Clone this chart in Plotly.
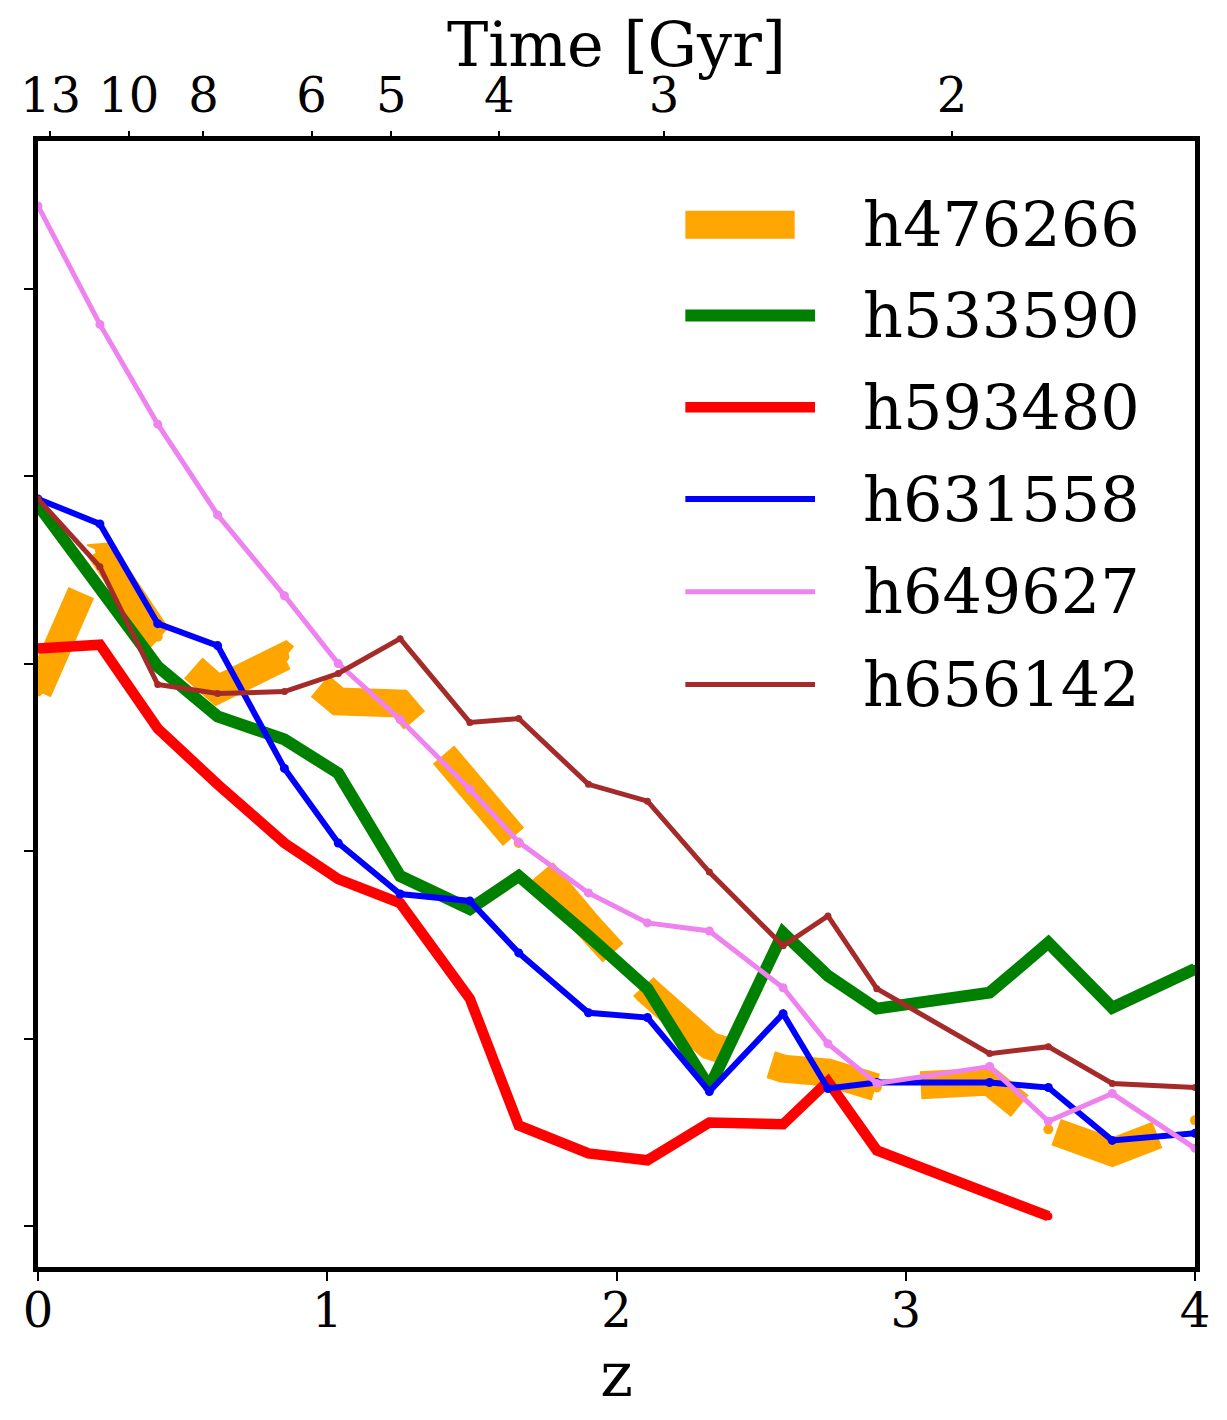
import plotly.graph_objects as go

# redshift of each snapshot
z = [0.0, 0.214, 0.414, 0.621, 0.852, 1.038, 1.252, 1.493, 1.662, 1.903,
     2.107, 2.321, 2.576, 2.731, 2.9, 3.29, 3.493, 3.714, 4.0]

# one series per halo (arbitrary units, no y labels in the original)
h476266 = [2.851, 3.606, 3.144, 2.862, 3.037, 2.798, 2.787, 2.319, 2.043, 1.601,
           1.255, 0.963, 0.840, 0.819, 0.739, 0.771, 0.516, 0.394, 0.564]
h533590 = [3.846, 3.410, 2.984, 2.718, 2.596, 2.415, 1.867, 1.691, 1.867, 1.548,
           1.266, 0.739, 1.564, 1.335, 1.160, 1.245, 1.511, 1.165, 1.372]
h593480 = [3.080, 3.101, 2.654, 2.356, 2.043, 1.851, 1.723, 1.213, 0.537, 0.388,
           0.351, 0.553, 0.543, 0.771, 0.404, 0.176, 0.053]
h631558 = [3.878, 3.745, 3.213, 3.096, 2.441, 2.043, 1.771, 1.734, 1.457, 1.138,
           1.112, 0.718, 1.133, 0.734, 0.766, 0.766, 0.739, 0.457, 0.495]
h649627 = [5.441, 4.809, 4.277, 3.793, 3.362, 3.000, 2.702, 2.330, 2.048, 1.777,
           1.617, 1.574, 1.271, 0.973, 0.761, 0.851, 0.559, 0.707, 0.415]
h656142 = [3.878, 3.516, 2.888, 2.840, 2.851, 2.947, 3.133, 2.686, 2.707, 2.356,
           2.266, 1.888, 1.495, 1.654, 1.266, 0.920, 0.957, 0.761, 0.739]

# top axis: cosmic time labels placed at their redshift
time_gyr = [13, 10, 8, 6, 5, 4, 3, 2]
time_z = [0.043, 0.314, 0.572, 0.946, 1.221, 1.595, 2.164, 3.16]

series = [
    ("h476266", h476266),
    ("h533590", h533590),
    ("h593480", h593480),
    ("h631558", h631558),
    ("h649627", h649627),
    ("h656142", h656142),
]

STYLE = {
    "h476266": dict(color="orange", width=28, dash="108px,45px", msize=10),
    "h533590": dict(color="green", width=12, dash="solid", msize=8),
    "h593480": dict(color="red", width=10.5, dash="solid", msize=8),
    "h631558": dict(color="blue", width=6, dash="solid", msize=9),
    "h649627": dict(color="violet", width=5, dash="solid", msize=9),
    "h656142": dict(color="brown", width=5, dash="solid", msize=7),
}

FONT = "DejaVu Serif"

fig = go.Figure()
for name, vals in series:
    st = STYLE[name]
    fig.add_trace(go.Scatter(
        x=z[:len(vals)], y=vals, name=name,
        mode="lines+markers",
        line=dict(color=st["color"], width=st["width"], dash=st["dash"]),
        marker=dict(color=st["color"], size=st["msize"]),
        showlegend=False,
    ))

# empty trace so the top axis is drawn
fig.add_trace(go.Scatter(x=[], y=[], xaxis="x2", showlegend=False))

# hand-made legend (long line samples like the original)
row_y = [0.9256, 0.845, 0.7635, 0.682, 0.5997, 0.5173]
for (name, _), yy in zip(series, row_y):
    st = STYLE[name]
    x1 = 0.654 if name == "h476266" else 0.6716
    fig.add_shape(type="line", xref="paper", yref="paper",
                  x0=0.5595, x1=x1, y0=yy, y1=yy,
                  line=dict(color=st["color"], width=st["width"]))
    fig.add_annotation(xref="paper", yref="paper", x=0.711, y=yy,
                       text=name, showarrow=False, xanchor="left", yanchor="middle",
                       font=dict(family=FONT, size=62, color="black"))

axis_common = dict(showgrid=False, zeroline=False, ticks="outside",
                   ticklen=9, tickwidth=2, tickcolor="black")

# page has an 8px body margin, so the figure is a bit smaller than the window
fig.update_layout(
    width=1219, height=1412,
    paper_bgcolor="white", plot_bgcolor="white",
    margin=dict(l=27, r=32, t=130, b=153),
    font=dict(family=FONT, color="black", size=48),
    xaxis=dict(range=[0, 4], tickvals=[0, 1, 2, 3, 4],
               showline=True, linewidth=5, linecolor="black", mirror=True,
               ticklabelstandoff=-12,
               title=dict(text="z", font=dict(size=62), standoff=14),
               tickfont=dict(size=48), **axis_common),
    xaxis2=dict(range=[0, 4], overlaying="x", side="top", anchor="y",
                tickvals=time_z, ticktext=[str(t) for t in time_gyr],
                showline=False,
                title=dict(text="Time [Gyr]", font=dict(size=62), standoff=3),
                tickfont=dict(size=48), **axis_common),
    yaxis=dict(range=[-0.218, 5.787], tickvals=[0, 1, 2, 3, 4, 5],
               showticklabels=False,
               showline=True, linewidth=5, linecolor="black", mirror=True,
               **axis_common),
)

fig.write_html("out.html")
